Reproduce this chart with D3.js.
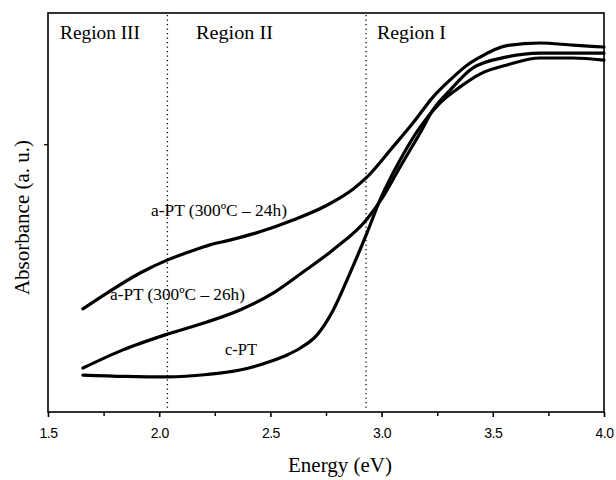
<!DOCTYPE html>
<html>
<head>
<meta charset="utf-8">
<script src="https://cdn.jsdelivr.net/npm/d3@7"></script>
<style>
  html, body { margin: 0; padding: 0; background: #fff; }
  svg { display: block; }
  .serif { font-family: "Liberation Serif", "Times New Roman", serif; fill: #000; }
  .tick text { font-family: "Liberation Sans", Arial, sans-serif; font-size: 14px; fill: #000; letter-spacing: -0.5px; }
</style>
</head>
<body>
<svg id="chart" width="616" height="480"></svg>
<script>
// Energy (eV) and absorbance (a.u.) samples for each film
const energyPT24 = [1.657, 1.765, 1.914, 2.038, 2.139, 2.228, 2.318, 2.453, 2.602, 2.754, 2.871, 2.934, 3.051, 3.141, 3.231, 3.308, 3.384, 3.442, 3.563, 3.712, 3.861, 4.0];
const absPT24    = [0.385, 0.444, 0.519, 0.568, 0.599, 0.624, 0.642, 0.673, 0.717, 0.772, 0.832, 0.877, 0.990, 1.079, 1.176, 1.240, 1.295, 1.325, 1.368, 1.378, 1.370, 1.363];

const energyPT26 = [1.657, 1.837, 2.038, 2.215, 2.363, 2.512, 2.647, 2.781, 2.934, 3.006, 3.083, 3.173, 3.231, 3.308, 3.411, 3.564, 3.712, 3.861, 4.0];
const absPT26    = [0.164, 0.232, 0.291, 0.336, 0.381, 0.444, 0.523, 0.605, 0.720, 0.803, 0.915, 1.042, 1.128, 1.202, 1.285, 1.326, 1.340, 1.340, 1.340];

const energyCPT  = [1.657, 1.846, 2.038, 2.215, 2.363, 2.512, 2.575, 2.633, 2.710, 2.781, 2.858, 2.934, 2.993, 3.083, 3.173, 3.263, 3.353, 3.442, 3.564, 3.712, 3.861, 4.0];
const absCPT     = [0.138, 0.133, 0.131, 0.140, 0.157, 0.192, 0.213, 0.238, 0.288, 0.378, 0.519, 0.668, 0.792, 0.941, 1.064, 1.154, 1.214, 1.262, 1.296, 1.322, 1.322, 1.314];

const seriesNames = ["a-PT (300ºC – 24h)", "a-PT (300ºC – 26h)", "c-PT"];

// Region boundaries (eV) and labels
const regionBounds = [2.037, 2.93];
const regionNames  = ["Region III", "Region II", "Region I"];

// Axis ticks
const xMajorTicks = [1.5, 2.0, 2.5, 3.0, 3.5, 4.0];
const xMinorTicks = [1.75, 2.25, 2.75, 3.25, 3.75];
const yTicks = [1.0];

const svg = d3.select("#chart");
const plotLeft = 48, plotRight = 604, plotTop = 13, plotBottom = 412;

const x = d3.scaleLinear().domain([1.5, 4.0]).range([plotLeft, plotRight]);
const y = d3.scaleLinear().domain([0, 1.49]).range([plotBottom, plotTop]);

// Frame
svg.append("rect")
  .attr("x", plotLeft).attr("y", plotTop)
  .attr("width", plotRight - plotLeft).attr("height", plotBottom - plotTop)
  .attr("fill", "none").attr("stroke", "#000").attr("stroke-width", 1.6);

// Region separators
svg.selectAll("line.region")
  .data(regionBounds)
  .join("line")
  .attr("class", "region")
  .attr("x1", d => x(d)).attr("x2", d => x(d))
  .attr("y1", plotTop + 2).attr("y2", plotBottom - 2)
  .attr("stroke", "#000").attr("stroke-width", 1.3)
  .attr("stroke-dasharray", "1.3,3.2");

// X axis: major ticks with labels, minor ticks without
const xAxis = d3.axisBottom(x).tickValues(xMajorTicks).tickSize(5).tickSizeOuter(0)
  .tickFormat(d3.format(".1f"));
const gx = svg.append("g").attr("transform", `translate(0,${plotBottom})`).call(xAxis);
gx.select(".domain").remove();
gx.selectAll(".tick line").attr("stroke-width", 1.6);
gx.selectAll(".tick text").attr("dy", "1.25em");

const gxm = svg.append("g").attr("transform", `translate(0,${plotBottom})`)
  .call(d3.axisBottom(x).tickValues(xMinorTicks).tickSize(4).tickFormat(""));
gxm.select(".domain").remove();
gxm.selectAll(".tick line").attr("stroke-width", 1.4);

// Y axis: a single unlabeled tick
const gy = svg.append("g").attr("transform", `translate(${plotLeft},0)`)
  .call(d3.axisLeft(y).tickValues(yTicks).tickSize(4).tickFormat(""));
gy.select(".domain").remove();
gy.selectAll(".tick line").attr("stroke-width", 1.2);

// Absorbance curves
const line = d3.line()
  .x(d => x(d[0])).y(d => y(d[1]))
  .curve(d3.curveMonotoneX);

const curves = [
  d3.zip(energyPT24, absPT24),
  d3.zip(energyPT26, absPT26),
  d3.zip(energyCPT, absCPT)
];

svg.append("g")
  .selectAll("path")
  .data(curves)
  .join("path")
  .attr("d", line)
  .attr("fill", "none")
  .attr("stroke", "#000")
  .attr("stroke-width", 3.2)
  .attr("stroke-linecap", "round")
  .attr("stroke-linejoin", "round");

// Region labels
const regionLabelPos = [[60, 80], [196, 77], [377, 69]];
svg.selectAll("text.regionLabel")
  .data(regionNames)
  .join("text")
  .attr("class", "serif regionLabel")
  .attr("x", (d, i) => regionLabelPos[i][0])
  .attr("y", 39)
  .attr("font-size", 18)
  .attr("textLength", (d, i) => regionLabelPos[i][1])
  .attr("lengthAdjust", "spacingAndGlyphs")
  .text(d => d);

// Curve labels
const seriesLabelPos = [[151, 216, 136], [110, 300, 135], [225, 355, 32]];
svg.selectAll("text.seriesLabel")
  .data(seriesNames)
  .join("text")
  .attr("class", "serif seriesLabel")
  .attr("x", (d, i) => seriesLabelPos[i][0])
  .attr("y", (d, i) => seriesLabelPos[i][1])
  .attr("font-size", 17)
  .attr("textLength", (d, i) => seriesLabelPos[i][2])
  .attr("lengthAdjust", "spacingAndGlyphs")
  .text(d => d);

// Axis titles
svg.append("text")
  .attr("class", "serif")
  .attr("x", 340).attr("y", 472)
  .attr("text-anchor", "middle")
  .attr("font-size", 21)
  .text("Energy (eV)");

svg.append("text")
  .attr("class", "serif")
  .attr("transform", `translate(29,${(plotTop + plotBottom) / 2 + 5}) rotate(-90)`)
  .attr("text-anchor", "middle")
  .attr("font-size", 21)
  .text("Absorbance (a. u.)");
</script>
</body>
</html>
